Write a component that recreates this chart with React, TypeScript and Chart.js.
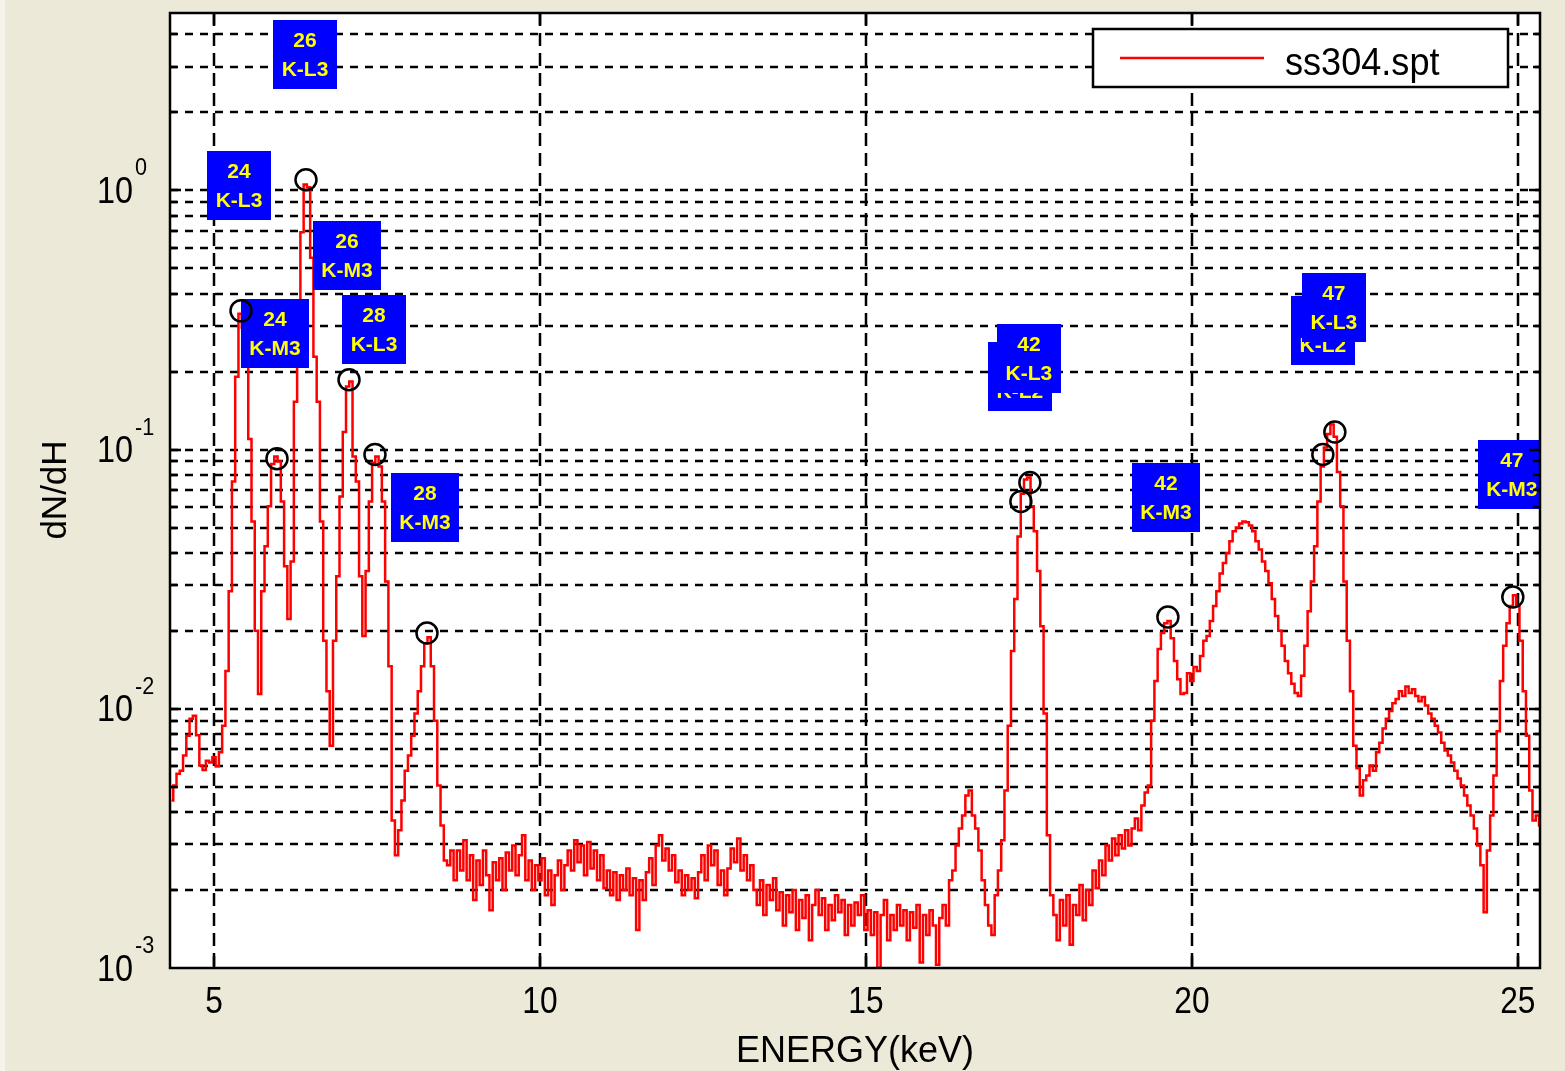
import React, { useEffect, useRef } from 'react';
import { Chart, registerables } from 'chart.js';

Chart.register(...registerables);

// Spectrum channels: first channel energy and channel width (keV)
const ENERGY_START = 4.35;
const ENERGY_STEP = 0.05;

// dN/dH per channel, in units of 1e-3
const DNDH_MILLI = [
  4.43, 5.06, 5.62, 5.77, 6.6, 7.87, 9.15, 9.4, 7.9, 6.04,
  5.8, 6.3, 6.2, 6.5, 6.0, 6.8, 8.6, 14.0, 28.4, 75.3,
  191, 334, 296, 227, 110, 52.8, 20, 11.4, 28.4, 42.4,
  60.4, 88, 94, 90, 63, 35.5, 22.2, 37, 153, 371,
  690, 1055, 1028, 550, 228, 153, 52.8, 18.3, 11.7, 7.2,
  18.3, 32.5, 65.9, 117, 175, 183, 94, 75.3, 32.5, 19.1,
  34, 63, 89, 94, 86, 63, 31, 14.6, 3.71, 2.72,
  3.4, 4.43, 5.77, 6.6, 7.87, 9.6, 11.7, 14.6, 17.9, 18.9,
  14.6, 9.0, 5.06, 3.55, 2.6, 2.49, 2.84, 2.18, 2.84, 2.38,
  3.11, 2.18, 2.72, 1.83, 2.6, 2.09, 2.84, 2.28, 1.67, 2.56,
  2.18, 2.65, 2.0, 2.79, 2.38, 2.97, 2.28, 2.72, 3.25, 2.18,
  2.6, 2.0, 2.49, 2.18, 2.65, 1.91, 2.38, 1.75, 2.28, 2.6,
  2.0, 2.49, 2.84, 2.38, 3.11, 2.56, 2.97, 2.28, 3.06, 2.42,
  2.84, 2.18, 2.72, 2.03, 2.38, 1.91, 2.34, 1.83, 2.28, 2.0,
  2.42, 1.91, 2.22, 1.4, 2.18, 1.83, 2.34, 2.65, 2.09, 2.97,
  3.25, 2.6, 2.89, 2.38, 2.72, 2.14, 2.38, 1.91, 2.28, 2.0,
  2.22, 1.86, 2.34, 2.72, 2.18, 2.97, 2.49, 2.84, 2.09, 2.38,
  1.91, 2.42, 2.89, 2.56, 3.16, 2.38, 2.72, 2.18, 2.49, 2.0,
  1.75, 2.18, 1.6, 2.09, 1.83, 2.22, 1.67, 1.96, 1.46, 1.91,
  1.64, 2.0, 1.4, 1.83, 1.56, 1.91, 1.28, 1.75, 2.0, 1.6,
  1.86, 1.4, 1.75, 1.53, 1.91, 1.64, 1.83, 1.34, 1.75, 1.46,
  1.79, 1.6, 1.91, 1.4, 1.67, 1.34, 1.64, 1.0, 1.6, 1.83,
  1.28, 1.6, 1.4, 1.75, 1.46, 1.67, 1.28, 1.64, 1.43, 1.75,
  1.05, 1.6, 1.34, 1.67, 1.46, 1.03, 1.56, 1.75, 1.46, 2.18,
  2.38, 2.97, 3.45, 3.88, 4.63, 4.84, 3.88, 3.45, 2.84, 2.18,
  1.75, 1.46, 1.34, 1.91, 2.38, 3.11, 4.84, 8.6, 16.7, 26.5,
  46.2, 67.6, 76.7, 78, 60.4, 48.4, 34, 20.8, 9.6, 3.25,
  1.91, 1.6, 1.28, 1.83, 1.46, 1.91, 1.23, 1.75, 1.6, 2.09,
  1.53, 2.0, 1.75, 2.38, 2.03, 2.6, 2.28, 2.97, 2.6, 3.16,
  2.72, 3.25, 2.89, 3.4, 2.97, 3.45, 3.77, 3.4, 4.24, 4.75,
  5.06, 9.0, 12.8, 17, 19.6, 21.4, 21.8, 18.7, 15.3, 13.0,
  11.4, 11.5, 13.7, 12.8, 14.5, 14.0, 16, 18.3, 19.1, 21.8,
  24.9, 28.4, 33.3, 36.5, 39.8, 44.3, 48.4, 50.1, 51.9, 52.8,
  52.4, 51, 48.4, 44.3, 41.2, 37, 34, 30.5, 26.5, 22.8,
  20, 17.5, 15.3, 13.7, 12.5, 11.5, 11.2, 13.4, 17.5, 23.8,
  31, 42.4, 63, 86, 102, 115, 125, 112, 82, 60.4,
  31, 18.3, 11.7, 7.2, 5.9, 4.63, 5.3, 5.53, 6.04, 5.77,
  6.8, 7.4, 8.4, 9.15, 9.8, 10.5, 10.9, 11.7, 11.2, 12.2,
  11.5, 11.9, 11.2, 10.7, 11.1, 10.3, 9.6, 9.15, 8.6, 8.1,
  7.4, 6.9, 6.6, 6.2, 5.77, 5.38, 5.06, 4.63, 4.24, 3.88,
  3.45, 2.97, 2.49, 1.64, 2.84, 3.88, 5.53, 8.2, 12.8, 17.5,
  21.4, 24.9, 27.4, 24.9, 18.3, 11.7, 7.87, 4.84, 3.71, 3.88, 3.55,
];

// Identified peaks (circle markers)
const PEAK_ENERGY = [5.414, 5.966, 6.411, 7.071, 7.469, 8.267, 17.377, 17.515, 19.632, 22.009, 22.193, 24.923];
const PEAK_DNDH = [0.343, 0.0923, 1.10, 0.186, 0.0957, 0.0196, 0.0631, 0.0747, 0.0226, 0.0957, 0.117, 0.027];

// Line annotations: atomic number, transition, anchor (top-left corner in data units)
const LABEL_Z = ['24', '24', '26', '26', '28', '28', '42', '42', '42', '47', '47', '47'];
const LABEL_LINE = ['K-L3', 'K-M3', 'K-L3', 'K-M3', 'K-L3', 'K-M3', 'K-L2', 'K-L3', 'K-M3', 'K-L2', 'K-L3', 'K-M3'];
const LABEL_ENERGY = [4.893, 5.414, 5.905, 6.518, 6.963, 7.715, 16.871, 17.009, 19.08, 21.518, 21.687, 24.387];
const LABEL_DNDH = [1.413, 0.381, 4.55, 0.76, 0.395, 0.0809, 0.26, 0.305, 0.089, 0.391, 0.479, 0.109];

const X_TICKS = [5, 10, 15, 20, 25];
const Y_DECADES = [-3, -2, -1, 0];
const X_MIN = 4.325;
const X_MAX = 25.34;
const Y_MIN = 0.001;
const Y_MAX = 4.836;

const SERIES_NAME = 'ss304.spt';
const X_TITLE = 'ENERGY(keV)';
const Y_TITLE = 'dN/dH';

const BG = '#ECE9D8';
const FONT = '"Liberation Sans", Arial, sans-serif';

function drawText(
  ctx: CanvasRenderingContext2D,
  s: string,
  x: number,
  y: number,
  font: string,
  align: CanvasTextAlign,
  sx = 1,
  color = '#000',
) {
  ctx.save();
  ctx.font = font;
  ctx.fillStyle = color;
  ctx.textAlign = align;
  ctx.textBaseline = 'alphabetic';
  ctx.translate(x, y);
  ctx.scale(sx, 1);
  ctx.fillText(s, 0, 0);
  ctx.restore();
}

function gridValues(): number[] {
  const out: number[] = [];
  for (const d of Y_DECADES) {
    for (let k = 1; k <= 9; k++) {
      const v = k * Math.pow(10, d);
      if (v > Y_MIN && v < Y_MAX) out.push(v);
    }
  }
  return out;
}

const framePlugin = {
  id: 'matlabFrame',
  beforeDraw(chart: any) {
    const { ctx, chartArea: a, width, height } = chart;
    ctx.save();
    ctx.fillStyle = BG;
    ctx.fillRect(0, 0, width, height);
    ctx.fillStyle = '#F5F3EA';
    ctx.fillRect(0, 0, 5, height);
    ctx.fillStyle = '#FFFFFF';
    ctx.fillRect(a.left, a.top, a.right - a.left, a.bottom - a.top);
    ctx.restore();
  },
  beforeDatasetsDraw(chart: any) {
    const { ctx, chartArea: a, scales } = chart;
    const xs = scales.x;
    const ys = scales.y;
    ctx.save();
    ctx.strokeStyle = '#000';
    ctx.lineWidth = 2.5;
    // horizontal grid (decades and their subdivisions)
    ctx.setLineDash([8, 7]);
    for (const v of gridValues()) {
      const y = Math.round(ys.getPixelForValue(v));
      ctx.beginPath();
      ctx.moveTo(a.left, y);
      ctx.lineTo(a.right, y);
      ctx.stroke();
    }
    // vertical grid
    ctx.setLineDash([13, 7]);
    for (const t of X_TICKS) {
      const x = Math.round(xs.getPixelForValue(t));
      ctx.beginPath();
      ctx.moveTo(x, a.top);
      ctx.lineTo(x, a.bottom);
      ctx.stroke();
    }
    ctx.restore();
  },
  afterDatasetDraw(chart: any, args: any) {
    if (args.index !== 0) return;
    const { ctx, scales, chartArea: a } = chart;
    const xs = scales.x;
    const ys = scales.y;
    ctx.save();
    ctx.beginPath();
    ctx.rect(0, 0, a.right + 1, chart.height);
    ctx.clip();
    const font = `bold 21px ${FONT}`;
    ctx.font = font;
    for (let i = 0; i < LABEL_Z.length; i++) {
      const x = xs.getPixelForValue(LABEL_ENERGY[i]);
      const y = ys.getPixelForValue(LABEL_DNDH[i]);
      const w = Math.round(ctx.measureText(LABEL_LINE[i]).width + 17);
      const h = 69;
      ctx.fillStyle = '#0000FF';
      ctx.fillRect(Math.round(x), Math.round(y), w, h);
      drawText(ctx, LABEL_Z[i], x + w / 2, y + 27, font, 'center', 1, '#FFFF00');
      drawText(ctx, LABEL_LINE[i], x + w / 2, y + 56, font, 'center', 1, '#FFFF00');
    }
    ctx.restore();
  },
  afterDraw(chart: any) {
    const { ctx, chartArea: a, scales } = chart;
    const xs = scales.x;
    const ys = scales.y;
    ctx.save();
    ctx.strokeStyle = '#000';
    ctx.lineWidth = 2.5;
    ctx.setLineDash([]);
    // tick marks inside the axes
    for (const v of gridValues()) {
      const y = Math.round(ys.getPixelForValue(v));
      const len = Math.abs(Math.log10(v) - Math.round(Math.log10(v))) < 1e-9 ? 11 : 7;
      ctx.beginPath();
      ctx.moveTo(a.left, y);
      ctx.lineTo(a.left + len, y);
      ctx.moveTo(a.right, y);
      ctx.lineTo(a.right - len, y);
      ctx.stroke();
    }
    for (const t of X_TICKS) {
      const x = Math.round(xs.getPixelForValue(t));
      ctx.beginPath();
      ctx.moveTo(x, a.bottom);
      ctx.lineTo(x, a.bottom - 12);
      ctx.moveTo(x, a.top);
      ctx.lineTo(x, a.top + 12);
      ctx.stroke();
    }
    // axes box
    ctx.lineWidth = 2.5;
    ctx.strokeRect(a.left, a.top, a.right - a.left, a.bottom - a.top);

    // y tick labels 10^n
    for (const d of Y_DECADES) {
      const y = ys.getPixelForValue(Math.pow(10, d));
      drawText(ctx, '10', 133, y + 12.5, `36px ${FONT}`, 'right', 0.9);
      drawText(ctx, String(d), 135, y - 15, `24px ${FONT}`, 'left', 0.9);
    }
    // x tick labels
    for (const t of X_TICKS) {
      const x = xs.getPixelForValue(t);
      drawText(ctx, String(t), x, 1013, `36px ${FONT}`, 'center', 0.88);
    }
    // axis titles
    drawText(ctx, X_TITLE, (a.left + a.right) / 2, 1062, `36px ${FONT}`, 'center', 1);
    ctx.save();
    ctx.translate(66, 490);
    ctx.rotate(-Math.PI / 2);
    drawText(ctx, Y_TITLE, 0, 0, `35px ${FONT}`, 'center', 1);
    ctx.restore();

    // legend
    ctx.fillStyle = '#FFFFFF';
    ctx.fillRect(1093, 29, 415, 58);
    ctx.lineWidth = 2.5;
    ctx.strokeStyle = '#000';
    ctx.strokeRect(1093, 29, 415, 58);
    ctx.strokeStyle = '#FF0000';
    ctx.lineWidth = 2.5;
    ctx.beginPath();
    ctx.moveTo(1120, 58);
    ctx.lineTo(1264, 58);
    ctx.stroke();
    drawText(ctx, SERIES_NAME, 1285, 75, `38px ${FONT}`, 'left', 0.95);
    ctx.restore();
  },
};

export default function App() {
  const canvasRef = useRef<HTMLCanvasElement | null>(null);

  useEffect(() => {
    const canvas = canvasRef.current;
    if (!canvas) return;
    const spectrum = DNDH_MILLI.map((v, i) => ({ x: ENERGY_START + i * ENERGY_STEP, y: v / 1000 }));
    const peaks = PEAK_ENERGY.map((e, i) => ({ x: e, y: PEAK_DNDH[i] }));
    const chart = new Chart(canvas, {
      type: 'line',
      data: {
        datasets: [
          {
            label: SERIES_NAME,
            data: spectrum,
            borderColor: '#FF0000',
            borderWidth: 2.5,
            pointRadius: 0,
            stepped: 'middle',
            fill: false,
            order: 2,
          },
          {
            label: 'peaks',
            type: 'scatter',
            data: peaks,
            showLine: false,
            pointStyle: 'circle',
            pointRadius: 10.5,
            borderColor: '#000000',
            borderWidth: 2.5,
            backgroundColor: 'rgba(0,0,0,0)',
            order: 1,
          } as any,
        ],
      },
      options: {
        animation: false,
        responsive: false,
        events: [],
        layout: { padding: { left: 170, top: 10, right: 25, bottom: 103 } },
        scales: {
          x: { type: 'linear', min: X_MIN, max: X_MAX, display: false },
          y: { type: 'logarithmic', min: Y_MIN, max: Y_MAX, display: false },
        },
        plugins: { legend: { display: false }, tooltip: { enabled: false } },
      },
      plugins: [framePlugin],
    });
    return () => chart.destroy();
  }, []);

  return (
    <div style={{ position: 'fixed', left: 0, top: 0, width: 1565, height: 1071, background: BG }}>
      <canvas ref={canvasRef} width={1565} height={1071} style={{ display: 'block', width: 1565, height: 1071 }} />
    </div>
  );
}
